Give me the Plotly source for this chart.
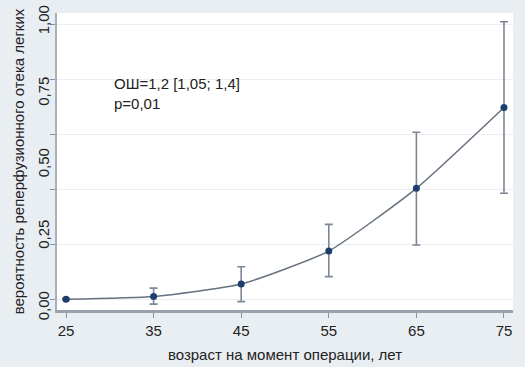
import plotly.graph_objects as go

age = [25, 35, 45, 55, 65, 75]
prob = [0.003, 0.013, 0.058, 0.178, 0.406, 0.700]
ci_low = [0.000, -0.015, -0.006, 0.085, 0.200, 0.388]
ci_high = [0.006, 0.043, 0.121, 0.275, 0.610, 1.012]

grid_ticks = [0, 0.2, 0.4, 0.6, 0.8, 1.0]
label_ticks = [0, 0.25, 0.5, 0.75, 1.0]
label_text = ["0,00", "0,25", "0,50", "0,75", "1,00"]
x_ticks = [25, 35, 45, 55, 65, 75]

font_family = "Liberation Sans Narrow, Liberation Sans, Arial, sans-serif"

fig = go.Figure()
fig.add_trace(go.Scatter(
    x=age, y=prob, mode="lines+markers",
    line=dict(color="#66717f", width=1.5, shape="spline", smoothing=0.5),
    marker=dict(color="#1d3f6e", size=7),
    error_y=dict(type="data", symmetric=False,
                 array=[h - p for h, p in zip(ci_high, prob)],
                 arrayminus=[p - l for l, p in zip(ci_low, prob)],
                 color="#7d8796", thickness=1.6, width=4),
    showlegend=False,
))
# invisible trace on second axis to carry tick labels
fig.add_trace(go.Scatter(x=[age[0]], y=[prob[0]], yaxis="y2", mode="markers",
                         marker=dict(opacity=0), showlegend=False, hoverinfo="skip"))

fig.add_annotation(x=0.12, y=0.73, xref="paper", yref="paper",
                   text="ОШ=1,2 [1,05; 1,4]<br>p=0,01", showarrow=False,
                   xanchor="left", yanchor="middle", align="left",
                   font=dict(size=15, color="#222", family=font_family))

fig.update_layout(
    width=525, height=367,
    margin=dict(l=57, r=12, t=13, b=57),
    paper_bgcolor="#e9eef2", plot_bgcolor="#ffffff",
    font=dict(family=font_family, color="#222"),
    xaxis=dict(range=[23.97, 76.03], tickvals=x_ticks, ticks="outside",
               ticklen=5, tickcolor="#8a929c", showgrid=False,
               showline=True, linecolor="#9aa1aa", linewidth=3,
               tickfont=dict(size=15), zeroline=False, automargin=False,
               title=dict(text="возраст на момент операции, лет",
                          font=dict(size=15), standoff=12)),
    yaxis=dict(range=[-0.0364, 1.0436], tickvals=grid_ticks, showticklabels=False,
               ticks="outside", ticklen=5, tickcolor="#8a929c", automargin=False,
               showgrid=True, gridcolor="#eceff2", gridwidth=1,
               showline=True, linecolor="#aab0b8", linewidth=2, zeroline=False),
    yaxis2=dict(overlaying="y", side="left", range=[-0.007, 1.0315],
                tickvals=label_ticks, ticktext=label_text, tickangle=-90,
                showgrid=False, zeroline=False, showline=False, ticks="",
                ticklabelstandoff=4, automargin=False,
                tickfont=dict(size=15),
                title=dict(text="вероятность реперфузионного отека легких",
                           font=dict(size=15), standoff=6)),
)

fig.write_html("out.html", config={"displayModeBar": False},
               post_script="document.body.style.margin='0';document.body.style.overflow='hidden';")
